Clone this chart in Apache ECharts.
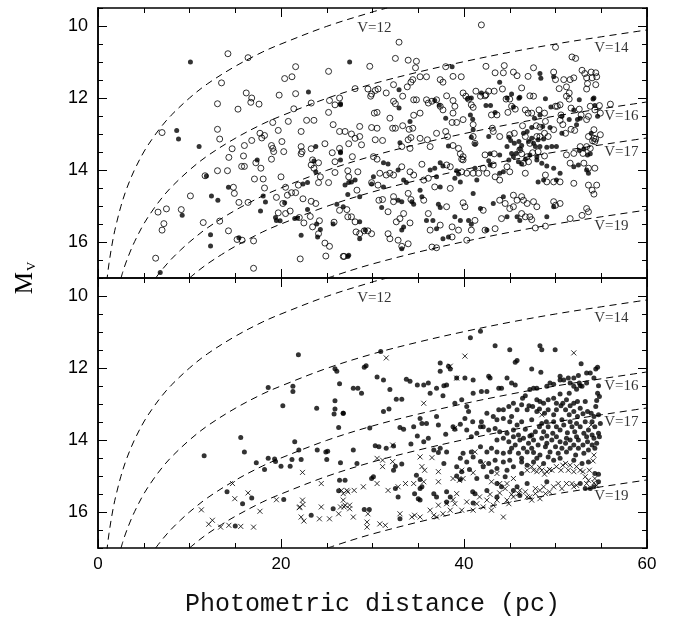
<!DOCTYPE html>
<html><head><meta charset="utf-8">
<script src="https://cdn.jsdelivr.net/npm/echarts@6/dist/echarts.min.js"></script>
<style>html,body{margin:0;padding:0;background:#fff}#c{width:684px;height:618px}</style>
</head><body><div id="c"></div>
<script>
// ---------- data ----------
const xTickValues = [0, 20, 40, 60];
const yTickLabels = [10, 12, 14, 16];
const xTitle = 'Photometric distance (pc)';

// dashed constant-V curves [distance, M_V]
const curveV12 = [[0.95,17.1],[1,17.0],[1.1,16.79],[1.2,16.6],[1.3,16.43],[1.5,16.12],[1.75,15.78],[2,15.5],[2.5,15.01],[3,14.61],[3.5,14.28],[4,13.99],[5,13.5],[6,13.11],[7,12.77],[8,12.48],[10,12.0],[12,11.6],[15,11.12],[18,10.72],[20,10.5],[25,10.01],[30,9.61],[31.6,9.5]];
const curveV14 = [[2.5,17.01],[2.75,16.8],[3,16.61],[3.5,16.28],[4,15.99],[5,15.5],[6,15.11],[7,14.77],[8,14.48],[10,14.0],[12,13.6],[15,13.12],[18,12.72],[20,12.5],[25,12.01],[30,11.61],[35,11.28],[40,10.99],[45,10.73],[50,10.5],[55,10.3],[60,10.11]];
const curveV16 = [[6.3,17.0],[7,16.77],[8,16.48],[9,16.23],[10,16.0],[12,15.6],[15,15.12],[18,14.72],[20,14.5],[25,14.01],[30,13.61],[35,13.28],[40,12.99],[45,12.73],[50,12.5],[55,12.3],[60,12.11]];
const curveV17 = [[10,17.0],[11,16.79],[12,16.6],[13.5,16.35],[15,16.12],[18,15.72],[20,15.5],[25,15.01],[30,14.61],[35,14.28],[40,13.99],[45,13.73],[50,13.5],[55,13.3],[60,13.11]];
const curveV19 = [[25.1,17.0],[27.5,16.8],[30,16.61],[35,16.28],[40,15.99],[45,15.73],[50,15.5],[55,15.3],[60,15.11]];
const curveLabels = [[30.2,10.06,'V=12'],[56.1,10.6,'V=14'],[57.2,12.5,'V=16'],[57.2,13.5,'V=17'],[56.1,15.57,'V=19']];

// top panel: open circles
const topOpen = [
[14.2,10.77],[16.4,10.88],[13.5,11.58],[13.06,12.16],[15.3,12.31],[16.2,11.86],[16.8,12.0],[16.7,12.12],[17.6,12.17],[19.8,11.92],[20.4,11.46],[21.2,11.41],[21.6,11.13],[21.6,11.88],[23.3,12.14],[25.2,11.26],[25.3,12.07],[26.4,12.0],[25.9,12.19],[21.4,12.3],[20.8,12.65],[19.1,12.68],[22.8,12.62],[23.6,12.62],[22.2,12.93],[25.2,12.4],[25.7,12.74],[26.4,12.93],[7.0,12.96],[13.06,12.87],[13.3,13.14],[14.66,13.41],[14.3,13.65],[16.0,13.32],[15.9,13.61],[16.8,13.18],[17.7,12.98],[17.9,13.11],[18.2,13.04],[18.96,13.32],[19.1,13.4],[19.2,13.49],[20.1,13.21],[20.3,13.49],[19.7,12.9],[22.2,13.35],[22.3,13.49],[22.2,13.55],[23.3,13.41],[24.8,13.27],[26.4,13.4],[25.6,13.52],[27.4,13.27],[11.7,14.16],[13.06,14.02],[14.15,14.02],[14.9,14.65],[15.4,14.9],[14.8,14.48],[15.7,13.9],[16.0,13.9],[17.25,13.8],[17.8,13.95],[18.96,13.7],[17.1,14.25],[18.05,14.25],[20.0,14.19],[20.5,14.48],[20.7,14.7],[21.15,14.63],[20.2,14.93],[18.2,14.5],[16.4,14.9],[19.5,14.76],[10.1,14.72],[6.56,15.17],[7.48,15.08],[7.2,15.49],[7.0,15.67],[9.1,15.1],[11.5,15.46],[13.3,15.42],[14.26,15.69],[15.2,15.93],[15.75,15.95],[17.0,15.97],[19.7,15.19],[20.5,15.21],[21.0,15.14],[22.0,15.32],[22.5,15.47],[21.6,14.63],[21.9,14.42],[22.4,14.8],[23.3,14.87],[23.8,14.93],[23.2,15.29],[23.45,15.58],[24.2,15.41],[24.1,15.77],[24.8,16.03],[25.3,16.12],[25.8,15.45],[24.9,16.39],[26.9,16.4],[22.1,16.47],[17.0,16.73],[6.3,16.45],[24.3,14.19],[24.1,14.35],[25.2,14.35],[25.9,14.07],[25.9,13.77],[23.3,13.86],[24.1,13.8],[23.6,13.95],[23.45,13.72],[27.3,14.02],[26.4,15.12],[27.3,15.3],
[41.9,9.97],[32.9,10.45],[50.0,10.59],[32.5,10.9],[33.9,10.95],[34.8,10.98],[34.7,11.16],[29.7,11.12],[51.8,10.86],[52.2,10.9],[38.0,11.13],[42.4,11.12],[44.4,11.1],[47.6,11.16],
[43.4,11.3],[44.3,11.3],[45.4,11.28],[45.8,11.38],[47.0,11.4],[49.8,11.28],[50.0,11.49],[50.9,11.49],[51.6,11.49],[52.0,11.44],[52.9,11.23],[53.2,11.32],[53.9,11.28],[54.4,11.3],[53.4,11.44],[54.0,11.44],[54.5,11.41],[53.5,11.6],[53.4,11.75],[54.4,11.63],[50.4,11.74],[51.2,11.69],[51.5,11.86],[37.4,11.49],[37.7,11.56],[38.8,11.4],[39.7,11.41],[35.2,11.41],[35.9,11.41],[34.4,11.49],[34.2,11.56],[33.8,11.69],[32.3,11.63],[28.1,11.74],[29.5,11.75],[29.9,11.89],[30.3,11.79],[29.8,11.95],[30.6,11.75],[31.5,11.86],[41.3,11.81],[42.4,11.91],[42.7,11.81],[43.3,11.81],[44.2,11.75],[46.3,11.72],[47.2,11.94],[33.3,11.95],[51.2,11.95],[51.5,12.03],[47.6,11.95],[44.6,12.03],[45.0,12.03],[41.8,11.95],[42.3,11.94],[38.1,11.94],[39.9,11.86],[40.2,11.95],
[32.3,12.09],[32.5,12.16],[34.5,12.05],[34.8,12.05],[35.9,12.05],[36.1,12.14],[36.5,12.09],[37.0,12.05],[38.8,12.07],[40.5,12.03],[56.0,12.17],[30.2,12.42],[30.5,12.4],[28.6,12.79],[31.9,12.56],[29.9,12.82],[30.5,12.84],[32.2,12.84],[32.5,12.84],[33.3,12.77],[35.2,12.42],[34.5,12.48],[34.0,12.87],[34.4,12.84],[37.4,12.23],[37.7,12.33],[39.0,12.23],[38.8,12.42],[38.7,12.68],[39.2,12.68],[40.8,12.19],[41.0,12.26],[39.9,12.6],[41.0,12.74],[43.0,12.47],[43.6,12.47],[44.8,12.4],[45.2,12.23],[45.6,12.31],[46.7,12.33],[47.0,12.42],[47.4,12.42],[48.2,12.33],[48.8,12.42],[48.9,12.65],[50.0,12.23],[50.2,12.23],[50.5,12.19],[50.6,12.47],[50.5,12.62],[50.8,12.74],[51.7,12.28],[52.6,12.31],[52.8,12.47],[53.4,12.6],[53.8,12.23],[54.3,12.33],[53.6,12.51],[54.8,12.21],[54.9,12.42],[43.1,12.84],[46.4,12.77],[47.9,12.77],[48.3,12.81],[51.7,12.87],[54.2,12.88],[52.1,12.9],
[27.0,12.93],[27.7,13.0],[28.1,13.12],[28.6,13.07],[28.8,13.3],[27.8,13.63],[30.3,13.16],[31.1,13.18],[30.1,13.63],[30.5,13.7],[33.2,13.35],[33.9,13.16],[34.2,13.1],[34.1,13.4],[35.2,13.12],[36.0,13.16],[36.3,13.35],[37.0,12.98],[38.0,12.93],[38.2,13.07],[38.8,13.32],[39.4,13.4],[39.6,13.55],[39.9,13.63],[39.75,13.7],[41.0,13.07],[41.2,13.26],[43.2,12.93],[43.9,13.07],[45.0,13.02],[46.7,13.07],[47.2,13.26],[47.96,13.07],[48.3,13.07],[48.8,12.98],[49.2,13.07],[42.3,13.58],[43.3,13.55],[46.1,13.44],[46.3,13.55],[46.9,13.63],[47.5,13.52],[48.1,13.49],[48.8,13.61],[51.1,12.98],[51.2,13.58],[52.0,13.54],[52.7,13.35],[53.0,13.54],[53.6,13.07],[54.2,13.12],[54.4,13.14],[54.3,13.21],[54.05,13.19],[54.9,13.02],[53.4,13.35],[53.8,13.4],[49.8,12.88],[45.5,12.98],
[27.4,14.19],[28.4,14.05],[28.3,14.56],[29.9,14.35],[30.6,14.42],[30.8,14.09],[31.5,14.14],[31.9,14.09],[32.3,14.14],[33.2,13.91],[34.1,14.05],[34.5,14.14],[35.4,13.84],[35.6,14.28],[36.1,14.23],[38.1,13.86],[38.5,13.91],[39.75,14.05],[40.3,14.09],[39.9,13.72],[41.0,14.09],[41.6,14.09],[42.1,13.95],[42.5,14.09],[43.2,13.86],[43.4,14.19],[43.9,14.28],[44.7,13.91],[45.0,14.05],[46.5,13.81],[47.05,13.77],[46.7,14.09],[48.9,14.14],[49.05,14.33],[49.8,14.33],[50.5,14.33],[52.0,14.37],[53.6,14.42],[51.6,13.81],[53.1,13.81],[53.6,13.95],[54.3,13.95],[54.5,14.42],[54.0,14.56],[54.2,14.67],[36.8,14.47],[38.5,14.51],[33.9,14.65],[32.3,14.74],[45.4,14.7],
[27.2,15.1],[27.7,15.3],[28.1,15.44],[28.2,15.72],[28.6,15.77],[29.1,15.69],[29.5,15.69],[29.9,15.77],[30.7,14.84],[31.1,14.82],[31.7,15.16],[32.3,14.88],[33.4,15.21],[31.7,15.77],[31.9,15.91],[32.6,15.44],[33.0,15.35],[34.1,15.47],[34.2,14.82],[35.6,14.84],[36.1,15.21],[36.3,15.67],[37.4,15.53],[38.1,15.02],[38.7,15.58],[39.4,15.67],[39.9,14.91],[40.1,15.02],[40.8,15.67],[41.2,15.4],[42.1,15.12],[43.4,15.63],[43.9,14.84],[44.5,14.93],[44.1,15.35],[45.0,15.07],[45.4,15.02],[45.8,14.84],[46.3,14.74],[46.5,14.84],[46.9,14.93],[46.3,15.21],[46.7,15.3],[47.2,15.3],[47.4,15.38],[47.6,14.88],[47.96,15.02],[49.8,14.88],[50.0,14.98],[50.5,14.93],[51.6,15.35],[52.9,15.26],[53.4,15.07],[53.6,15.16],[47.8,15.61],[48.9,15.56],[42.3,15.67],[40.3,15.95],[38.7,15.86],[36.5,16.14],[37.0,16.16],[32.8,15.95],[33.2,16.12],[33.9,16.05],[26.8,16.4]
];

// top panel: filled dots
const topFilled = [
[10.1,11.0],[23.0,11.83],[26.5,12.19],[8.6,12.9],[8.8,13.14],[11.05,13.35],[23.8,13.35],[26.5,13.52],[11.85,14.17],[14.26,14.48],[17.4,13.72],[18.05,14.72],[18.3,14.89],[20.4,14.91],[12.4,14.72],[13.1,14.84],[9.2,15.26],[12.3,15.8],[12.3,16.11],[15.4,15.88],[17.76,15.14],[19.4,15.32],[19.5,15.4],[19.9,15.41],[21.5,15.35],[21.8,15.33],[22.2,15.81],[22.9,15.1],[24.0,15.86],[25.7,15.5],[27.3,16.4],[6.8,16.85],[22.4,14.39],[22.9,14.35],[26.5,13.72],[23.6,13.75],[23.8,14.05],[27.4,14.35],[27.3,14.68],[26.1,14.95],[23.9,15.5],[24.3,15.65],
[27.5,11.0],[38.7,11.13],
[48.3,11.32],[48.4,11.45],[49.8,11.41],[43.9,11.56],[32.9,11.77],[54.2,12.0],[41.9,11.86],[44.7,12.0],[45.2,11.89],[46.1,11.98],[46.0,12.01],[48.9,12.02],[52.6,12.05],[54.1,12.03],[40.4,12.02],[40.8,12.0],[36.8,12.07],[37.3,12.2],
[26.5,12.16],[32.9,12.28],[34.1,12.65],[38.0,12.56],[40.7,12.47],[40.95,12.59],[42.4,12.21],[42.9,12.21],[43.4,12.4],[45.4,12.25],[47.7,12.56],[48.3,12.47],[49.5,12.25],[50.7,12.51],[52.0,12.33],[52.4,12.6],[52.3,12.74],[51.5,12.6],[52.7,12.56],[54.3,12.21],[54.6,12.51],[47.4,12.82],[48.6,12.79],[49.4,12.82],[41.0,12.88],
[26.5,13.49],[33.0,13.24],[38.3,13.33],[40.8,13.09],[41.2,13.28],[42.7,13.07],[42.85,13.55],[43.9,13.58],[44.9,13.09],[45.1,13.18],[45.5,13.26],[46.0,13.21],[46.3,13.32],[46.5,12.98],[46.9,12.93],[47.4,13.12],[47.6,13.26],[48.1,13.16],[48.3,13.35],[48.7,13.14],[49.05,13.37],[49.6,13.35],[50.1,13.35],[44.7,13.35],[45.2,13.54],[45.7,13.54],[46.1,13.42],[46.7,13.7],[47.2,13.58],[47.96,13.63],[50.7,12.98],[52.6,13.46],[53.1,13.42],[53.5,13.58],[53.8,13.55],[53.9,12.98],[47.8,13.35],[47.05,13.21],
[27.0,14.42],[27.7,14.33],[28.1,14.28],[30.1,14.19],[29.9,14.39],[31.2,13.8],[31.7,13.83],[32.8,14.0],[33.4,14.28],[33.7,14.35],[36.3,14.0],[36.8,13.95],[37.0,14.19],[37.4,13.8],[37.7,13.89],[39.2,14.02],[39.4,14.11],[39.0,14.23],[39.6,14.33],[41.2,13.95],[41.4,14.28],[42.7,13.74],[42.85,13.86],[43.9,14.09],[44.3,14.05],[44.9,13.72],[45.4,13.63],[45.95,13.77],[46.3,13.83],[47.96,13.72],[48.5,13.81],[48.1,14.33],[48.7,14.28],[50.1,14.28],[49.05,13.89],[49.8,13.95],[50.5,14.09],[52.0,13.91],[52.5,13.86],[53.4,14.0],[53.6,14.09],[35.2,14.56],[37.4,14.47],[41.0,14.65],[31.2,14.47],[28.6,14.74],
[26.8,15.02],[28.6,15.44],[28.6,15.91],[29.2,15.67],[31.0,15.04],[32.8,14.84],[33.2,14.88],[33.2,15.67],[33.4,15.58],[34.3,14.88],[34.5,14.95],[35.4,14.74],[35.9,15.4],[36.6,15.4],[37.0,15.63],[37.2,14.95],[37.4,15.04],[39.0,15.3],[39.6,15.4],[40.5,15.4],[40.8,15.51],[41.8,15.07],[42.5,15.67],[43.2,14.93],[44.3,14.74],[44.7,15.3],[45.8,15.3],[46.1,15.4],[49.05,15.3],[49.8,15.02],[37.7,15.91],[38.3,15.86],[33.2,16.19],[27.4,16.37]
];

// bottom panel: filled dots
const botFilled = [
[21.9,11.63],[18.6,12.54],[21.3,12.65],[21.3,12.51],[25.9,12.02],[26.1,12.09],[26.4,12.44],[20.2,13.05],[23.9,13.12],[25.9,12.91],[25.9,13.14],[25.8,13.28],[26.8,13.26],[26.3,13.65],[11.6,14.44],[15.6,13.93],[16.0,14.33],[17.3,14.63],[18.2,14.82],[18.6,14.51],[19.3,14.53],[19.4,14.6],[20.0,14.73],[21.0,14.73],[21.2,14.54],[21.5,14.05],[21.95,14.28],[22.2,14.54],[23.96,14.28],[24.9,14.33],[25.1,14.31],[25.0,14.54],[26.5,14.63],[26.4,15.12],[14.1,15.44],[15.8,15.77],[16.8,15.61],[20.3,15.65],[15.0,16.39],[23.3,16.09],[25.7,15.91],[26.3,15.41],
[40.7,11.16],[41.8,10.98],[43.4,11.38],[45.0,11.49],[48.3,11.38],[48.5,11.49],[49.96,11.49],[30.9,11.54],[29.1,11.98],[29.3,11.94],[37.4,11.86],[38.5,12.03],[38.3,11.95],[45.8,11.79],[45.6,11.84],[47.4,12.03],[48.4,12.12],[52.8,11.88],[54.4,12.03],[54.6,11.98],[53.8,12.14],[53.4,12.14],[52.5,12.21],[30.5,12.25],[31.2,12.33],[33.7,12.31],[34.1,12.37],[34.9,12.47],[35.6,12.47],[36.3,12.7],[37.0,12.56],[37.4,12.09],[38.1,12.47],[37.8,12.49],[39.2,12.28],[40.1,12.28],[41.0,12.33],[27.9,12.56],[28.4,12.56],[28.8,12.7],[26.8,13.26],[31.9,12.6],[32.6,12.87],[33.2,12.87],[36.1,12.42],[37.7,12.77],[39.0,12.98],[39.75,12.88],[40.3,13.07],[40.5,13.21],[41.0,12.7],[41.9,12.65],[42.5,12.65],[42.7,12.23],[42.85,12.28],[43.8,12.56],[44.1,12.56],[44.7,12.28],[45.2,12.42],[45.6,12.47],[46.4,12.84],[46.7,12.77],[47.2,12.6],[47.6,12.56],[47.96,12.56],[48.3,12.93],[48.7,12.98],[49.05,12.51],[49.4,12.42],[49.8,12.45],[50.5,12.23],[50.5,12.33],[50.9,12.33],[51.4,12.28],[52.0,12.28],[51.6,12.42],[52.0,12.51],[51.5,12.7],[52.3,12.59],[52.6,12.42],[52.7,12.49],[52.9,12.51],[53.4,12.42],[54.2,12.28],[54.7,12.49],[54.6,12.7],[54.8,12.79],[54.5,12.9],[54.4,13.07],[50.5,12.72],[49.8,12.84],[50.1,12.98],[50.8,12.98],[51.6,13.05],[52.4,12.93],[52.7,13.12],
[31.2,13.21],[31.8,13.14],[29.7,13.67],[27.9,14.28],[30.3,14.16],[30.7,14.19],[31.5,14.23],[32.3,14.17],[33.0,13.65],[33.4,13.7],[34.5,13.63],[35.2,13.4],[35.4,13.54],[35.9,13.54],[37.0,13.35],[37.2,13.58],[34.2,14.11],[34.9,13.89],[35.6,14.05],[36.1,13.95],[36.7,14.28],[37.4,14.23],[37.2,14.35],[38.0,13.84],[38.8,13.63],[39.0,13.7],[39.6,13.56],[40.1,13.4],[40.95,13.49],[41.8,13.63],[42.1,13.63],[41.9,13.49],[42.5,13.26],[43.2,13.35],[43.8,13.16],[44.3,13.16],[44.9,13.07],[45.2,13.35],[45.8,13.16],[46.3,13.02],[46.9,13.16],[47.1,13.05],[47.5,13.07],[47.96,13.21],[48.25,13.14],[48.8,13.26],[49.2,13.16],[49.8,13.3],[50.1,13.16],[50.6,13.05],[51.1,13.16],[51.5,13.3],[52.0,13.21],[52.4,13.35],[53.0,13.27],[53.5,13.21],[53.9,13.26],[54.2,13.35],[54.7,13.3],[54.9,13.54],[54.7,13.81],[54.8,13.91],
[43.4,13.68],[43.9,13.77],[44.7,13.81],[45.4,13.72],[45.95,13.86],[46.7,13.7],[47.2,13.89],[47.8,13.77],[48.25,13.63],[48.7,13.77],[49.2,13.63],[49.7,13.81],[50.1,13.63],[50.5,13.72],[50.9,13.58],[51.3,13.8],[51.8,13.63],[52.1,13.77],[52.7,13.63],[53.1,13.81],[53.6,13.72],[54.0,13.86],[54.3,13.63],[43.6,14.0],[44.3,13.95],[44.9,14.05],[45.6,14.14],[46.1,14.0],[46.5,14.23],[47.05,14.09],[47.6,14.0],[48.1,14.14],[48.5,13.95],[49.05,14.09],[49.6,14.0],[50.0,14.19],[50.5,14.05],[51.1,14.09],[51.6,14.0],[52.0,14.14],[52.5,14.0],[53.0,14.14],[53.5,14.05],[54.0,14.14],[54.5,14.09],[41.8,14.19],[42.5,14.33],[43.0,14.23],[43.6,14.33],[44.3,14.37],[45.0,14.33],[45.95,14.37],[46.9,14.33],[47.6,14.35],[48.3,14.42],[49.4,14.33],[50.3,14.37],[51.2,14.33],[52.2,14.42],[53.1,14.37],[40.8,14.33],[41.0,14.47],[39.9,14.37],[39.6,14.51],[40.3,14.61],[38.1,14.33],[37.8,14.65],[39.2,14.74],[39.75,14.88],[40.6,14.82],[41.8,14.6],[42.1,14.74],[42.7,14.65],[43.4,14.56],[44.3,14.61],[45.0,14.56],[45.4,14.74],[46.3,14.61],[46.9,14.7],[47.6,14.61],[48.7,14.65],[49.8,14.56],[52.0,14.56],[52.9,14.65],[53.6,14.61],[54.7,14.95],[54.3,14.93],
[45.0,13.49],[45.8,13.58],[46.3,13.49],[47.4,13.44],[48.5,13.54],[49.0,13.49],[49.8,13.49],[50.7,13.44],[51.6,13.49],[52.3,13.54],[53.25,13.49],[54.0,13.49],[45.4,13.91],[46.5,13.95],[47.4,13.86],[49.05,13.89],[50.1,13.91],[51.2,13.95],[52.3,13.91],[53.4,13.91],[54.2,13.95],[45.2,14.23],[47.4,14.23],[48.9,14.19],[50.7,14.23],[51.6,14.23],[52.5,14.23],[53.6,14.28],[54.3,14.23],[46.3,14.51],[47.96,14.51],[49.2,14.47],[50.5,14.51],[43.6,14.79],[44.7,14.84],[46.3,14.93],[43.0,14.88],[42.5,15.02],[41.4,15.07],[52.0,12.98],[53.25,12.93],[51.2,12.88],[49.2,12.88],[47.96,12.88],[45.4,12.98],[44.3,13.4],[43.6,13.44],[42.7,13.72],[41.4,13.81],[40.8,13.91],[40.3,13.72],
[30.1,15.02],[29.9,15.07],[32.5,14.73],[32.3,14.84],[33.2,14.67],[28.3,14.65],[27.0,15.12],[34.8,14.98],[35.2,15.1],[35.2,15.35],[35.4,15.3],[32.5,15.35],[32.8,15.58],[34.6,15.49],[35.0,15.63],[36.7,15.49],[37.0,15.58],[38.1,15.44],[38.5,15.58],[39.2,15.0],[39.6,15.1],[40.95,15.44],[41.2,15.49],[42.5,15.4],[43.6,15.21],[44.1,15.3],[44.5,15.02],[45.4,15.4],[45.8,15.3],[46.9,15.21],[49.05,15.16],[52.7,15.21],[53.25,15.35],[53.8,15.35],[54.2,15.3],[54.7,15.16],[29.1,15.93],[29.65,15.93],[33.0,16.19],[35.2,15.67],[38.1,15.72],[41.0,15.75],[43.6,15.58],[46.1,15.54]
];

// bottom panel: crosses
const botCross = [
[11.3,15.94],[12.1,16.34],[12.5,16.23],[13.4,16.42],[14.3,16.37],[15.6,16.4],[17.0,16.42],[14.7,15.21],[14.95,15.63],[16.4,15.47],[17.7,15.98],[19.5,15.66],[22.35,14.9],[22.35,15.67],[22.4,15.79],[22.05,15.86],[22.2,16.14],[22.5,16.25],[22.0,15.88],[24.2,16.19],[25.3,16.19],[24.4,15.86],[24.4,15.21],[26.3,16.05],[26.5,15.86],[26.9,15.86],[26.8,15.49],[27.3,15.44],[27.5,15.81],
[31.5,11.72],[40.1,11.67],[52.0,11.58],[38.5,11.95],[39.2,12.28],[35.6,12.98],[48.5,13.3],[53.9,13.58],[54.2,14.42],[54.1,14.58],[39.0,13.67],[32.2,14.14],[30.5,14.51],[31.1,14.56],[31.1,14.74],[32.2,14.6],[35.2,14.47],[36.5,14.49],[35.4,14.74],[35.7,14.84],[37.2,14.88],[35.6,15.16],[37.2,15.16],[38.8,15.07],[39.5,15.12],[39.9,15.07],[39.75,14.84],[41.0,14.91],[42.1,14.65],[41.2,14.33],[43.6,14.93],[43.0,15.16],[43.9,15.21],[44.7,15.21],[45.4,15.07],[44.5,15.35],[43.9,15.47],[43.6,15.67],[42.85,15.51],[42.5,15.67],[41.7,15.58],[42.1,15.86],[41.4,15.77],[40.3,15.72],[39.0,15.77],[38.8,15.66],[39.2,15.49],[38.1,15.77],[38.5,15.95],[37.2,15.81],[37.0,16.14],[36.7,16.09],[36.3,15.95],[35.2,16.14],[34.6,16.09],[34.3,16.14],[33.0,16.05],[31.4,16.37],[30.8,16.33],[29.4,16.42],[29.4,16.28],[29.5,16.05],[27.5,15.91],[27.9,16.14],[27.0,15.81],[26.8,15.67],[28.0,15.4],[27.2,15.4],[26.6,15.4],[29.0,15.3],[30.5,15.21],[31.7,15.4],[32.8,15.3],[33.6,15.21],[34.5,15.21],[44.3,16.14],[44.7,15.67],[45.4,15.58],[45.95,15.49],[46.7,15.44],[47.2,15.58],[47.8,15.49],[48.3,15.4],[48.9,15.49],[49.35,15.44],[46.9,14.84],[47.4,14.74],[47.96,14.88],[48.5,14.84],[49.05,14.88],[49.6,14.84],[49.8,15.3],[50.3,15.21],[50.8,14.7],[51.1,14.65],[51.6,14.7],[51.4,14.84],[52.0,14.88],[52.7,14.84],[53.25,15.02],[53.6,15.12],[53.4,15.21],[54.2,15.19],[54.5,15.26],[52.0,15.3],[52.3,15.26],[51.2,15.21],[48.3,15.63],[47.4,15.67],[46.9,15.58],
[47.6,14.84],[48.25,14.76],[48.8,14.95],[49.35,14.82],[50.1,14.74],[50.6,14.84],[52.3,14.74],[53.0,14.88],[53.7,14.84],[54.3,15.07],[51.8,15.21],[50.7,15.35],[48.7,15.3],[47.8,15.35],[46.1,15.4],[45.2,15.51],[44.9,15.77],[43.2,15.81],[43.0,15.95],[41.0,15.95],[39.75,15.95],[37.7,16.05]
];

// ---------- chart ----------
const chart = echarts.init(document.getElementById('c'), null, {renderer: 'canvas'});
const BLACK = '#000';
const SERIF = 'Liberation Serif';

function xAx(g, pos, labels) {
  const a = {
    type: 'value', gridIndex: g, position: pos, min: 0, max: 60, interval: 20,
    axisLine: {show: true, onZero: false, lineStyle: {color: BLACK, width: 1.5}},
    axisTick: {show: true, inside: true, length: 9, lineStyle: {color: BLACK, width: 1}},
    minorTick: {show: true, splitNumber: 4, length: 5, lineStyle: {color: BLACK, width: 1}},
    splitLine: {show: false}, minorSplitLine: {show: false},
    axisLabel: {show: labels, margin: 8, color: BLACK, fontFamily: 'Liberation Sans', fontSize: 17}
  };
  if (labels) {
    a.name = xTitle; a.nameLocation = 'middle'; a.nameGap = 44;
    a.nameTextStyle = {fontFamily: 'Liberation Mono', fontSize: 25, color: '#111'};
  }
  return a;
}
function yAx(g, pos, major, labels) {
  return {
    type: 'value', gridIndex: g, position: pos, min: 9.5, max: 17, interval: 0.5, inverse: true,
    axisLine: {show: true, onZero: false, lineStyle: {color: BLACK, width: 1.5}},
    axisTick: major
      ? {show: true, inside: true, length: 9, customValues: yTickLabels, lineStyle: {color: BLACK, width: 1}}
      : {show: true, inside: true, length: 5, lineStyle: {color: BLACK, width: 1}},
    axisLabel: labels
      ? {show: true, customValues: yTickLabels, margin: 10, color: BLACK, fontFamily: 'Liberation Sans', fontSize: 18}
      : {show: false},
    splitLine: {show: false}
  };
}

const xAxes = [xAx(0, 'bottom', false), xAx(0, 'top', false), xAx(1, 'bottom', true), xAx(1, 'top', false),
  {type: 'value', gridIndex: 2, show: false, min: 0, max: 1}];
const yAxes = [];
[0, 1].forEach(g => {
  yAxes.push(yAx(g, 'left', true, true));
  yAxes.push(yAx(g, 'left', false, false));
  yAxes.push(yAx(g, 'right', true, false));
  yAxes.push(yAx(g, 'right', false, false));
});
yAxes.push({
  type: 'value', gridIndex: 2, min: 0, max: 1,
  axisLine: {show: false}, axisTick: {show: false}, axisLabel: {show: false}, splitLine: {show: false},
  name: '{m|M}{s|V}', nameLocation: 'middle', nameGap: 60, nameRotate: 90,
  nameTextStyle: {rich: {
    m: {fontFamily: SERIF, fontSize: 25, color: BLACK},
    s: {fontFamily: SERIF, fontSize: 13, color: BLACK, padding: [12, 0, 0, 1]}
  }}
});

const curves = [curveV12, curveV14, curveV16, curveV17, curveV19];
const series = [];
[[0, 0], [2, 4]].forEach(([xi, yi]) => {
  curves.forEach(c => series.push({
    type: 'line', xAxisIndex: xi, yAxisIndex: yi, data: c, smooth: 0.35,
    showSymbol: false, symbol: 'none', silent: true, clip: true, z: 1,
    lineStyle: {color: BLACK, width: 1, type: [7, 5]}
  }));
  series.push({
    type: 'scatter', xAxisIndex: xi, yAxisIndex: yi, symbolSize: 1, silent: true, z: 5,
    itemStyle: {color: 'rgba(0,0,0,0)'},
    data: curveLabels.map(l => ({value: [l[0], l[1]], label: {formatter: l[2]}})),
    label: {show: true, position: 'inside', fontFamily: SERIF, fontSize: 15, color: BLACK}
  });
});
series.push({
  type: 'scatter', xAxisIndex: 0, yAxisIndex: 0, data: topOpen, symbol: 'circle', symbolSize: 6, z: 3,
  itemStyle: {color: 'rgba(255,255,255,0)', borderColor: BLACK, borderWidth: 1}
});
series.push({
  type: 'scatter', xAxisIndex: 0, yAxisIndex: 0, data: topFilled, symbol: 'circle', symbolSize: 5, z: 4,
  itemStyle: {color: BLACK}
});
series.push({
  type: 'scatter', xAxisIndex: 2, yAxisIndex: 4, data: botCross, symbol: 'path://M0,0L10,10M10,0L0,10', symbolSize: 5, z: 3,
  itemStyle: {color: 'rgba(0,0,0,0)', borderColor: BLACK, borderWidth: 1}
});
series.push({
  type: 'scatter', xAxisIndex: 2, yAxisIndex: 4, data: botFilled, symbol: 'circle', symbolSize: 5, z: 4,
  itemStyle: {color: BLACK}
});

chart.setOption({
  animation: false,
  backgroundColor: '#fff',
  grid: [
    {left: 98, right: 37, top: 8, height: 270},
    {left: 98, right: 37, top: 278, height: 270},
    {left: 98, right: 37, top: 8, height: 540}
  ],
  xAxis: xAxes,
  yAxis: yAxes,
  series: series
});
</script>
</body></html>
